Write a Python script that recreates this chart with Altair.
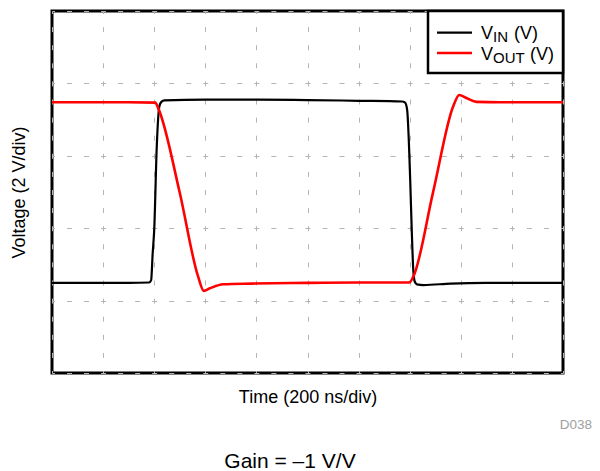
import altair as alt
import pandas as pd

# ---- data (time and voltage in divisions of the scope grid) ----
vin_t = [0, 1.5, 1.90, 1.94, 1.97, 2.00, 2.05, 2.10, 2.14, 2.20, 3.0, 4.0, 5.0, 6.0,
         6.85, 6.91, 6.95, 7.01, 7.04, 7.07, 7.10, 7.14, 7.27, 7.8, 8.5, 10]
vin_v = [2.49, 2.49, 2.50, 2.56, 3.30, 3.95, 6.25, 7.36, 7.49, 7.53, 7.55, 7.55, 7.54, 7.52,
         7.50, 7.47, 7.27, 5.33, 3.95, 2.85, 2.52, 2.45, 2.43, 2.47, 2.49, 2.49]

vout_t = [0, 1.5, 2.02, 2.08, 2.50, 2.86, 2.97, 3.09, 3.35, 3.9, 5.0, 6.0, 6.99,
          7.07, 7.46, 7.85, 7.97, 8.12, 8.31, 8.77, 10]
vout_v = [7.48, 7.48, 7.47, 7.31, 4.98, 2.66, 2.27, 2.34, 2.45, 2.47, 2.49, 2.50, 2.50,
          2.66, 5.01, 7.36, 7.68, 7.59, 7.49, 7.48, 7.48]

grid_vals = list(range(0, 11))

x_title = "Time (200 ns/div)"
y_title = "Voltage (2 V/div)"
caption = "Gain = \u20131 V/V"
fig_id = "D038"

FONT = "Liberation Sans, Arial, sans-serif"
W, H = 511, 362

vin = pd.DataFrame({"t": vin_t, "v": vin_v})
vout = pd.DataFrame({"t": vout_t, "v": vout_v})

xs = alt.Scale(domain=[0, 10], nice=False, zero=False)
ys = alt.Scale(domain=[0, 10], nice=False, zero=False)

x_axis = alt.Axis(values=grid_vals, grid=True, gridDash=[5, 13.1], gridDashOffset=2.5,
                  gridColor="#b4b4b4", gridWidth=1, labels=False, ticks=False, domain=False,
                  title=x_title, titleFont=FONT, titleFontSize=18, titleFontWeight="normal",
                  titleColor="black", titleY=29, titleBaseline="alphabetic")
y_axis = alt.Axis(values=grid_vals, grid=True, gridDash=[5, 12.03], gridDashOffset=2.5,
                  gridColor="#b4b4b4", gridWidth=1, labels=False, ticks=False, domain=False,
                  title=y_title, titleFont=FONT, titleFontSize=18, titleFontWeight="normal",
                  titleColor="black", titleX=-33, titleY=H / 2, titleAngle=270,
                  titleBaseline="middle", titleAlign="center")

vin_line = alt.Chart(vin).mark_line(color="black", strokeWidth=2.2, interpolate="monotone").encode(
    x=alt.X("t:Q", scale=xs, axis=x_axis),
    y=alt.Y("v:Q", scale=ys, axis=y_axis),
)
vout_line = alt.Chart(vout).mark_line(color="#ff0000", strokeWidth=2.6, interpolate="monotone").encode(
    x=alt.X("t:Q", scale=xs),
    y=alt.Y("v:Q", scale=ys),
)

one = pd.DataFrame({"a": [0]})
base = alt.Chart(one)

legend_box = base.mark_rect(fill="white", stroke="black", strokeWidth=2.5).encode(
    x=alt.value(376), x2=alt.value(511), y=alt.value(0), y2=alt.value(62))
leg_line1 = base.mark_rule(color="black", strokeWidth=2.2).encode(
    x=alt.value(385), x2=alt.value(420), y=alt.value(21.7))
leg_line2 = base.mark_rule(color="#ff0000", strokeWidth=2.6).encode(
    x=alt.value(385), x2=alt.value(420), y=alt.value(42))

def txt(s, x, y, size, align="left", color="black"):
    return base.mark_text(text=s, font=FONT, fontSize=size, align=align,
                          baseline="alphabetic", color=color).encode(
        x=alt.value(x), y=alt.value(y))

legend_texts = [
    txt("V", 429, 28, 18), txt("IN", 441, 30.5, 15), txt("(V)", 462, 28, 18),
    txt("V", 429, 49, 18), txt("OUT", 441, 51.5, 15), txt("(V)", 478, 49, 18),
]

id_text = txt(fig_id, 540, 418, 13.5, align="right", color="#a0a0a0")
cap_text = txt(caption, 238, 457, 21, align="center")

chart = alt.layer(vin_line, vout_line, legend_box, leg_line1, leg_line2,
                  *legend_texts, id_text, cap_text).properties(
    width=W, height=H,
    autosize=alt.AutoSizeParams(type="none"),
    padding={"left": 44, "top": 3, "right": 29, "bottom": 98},
).configure_view(stroke="black", strokeWidth=3)

chart.save("out.html", embed_options={"renderer": "svg", "actions": False})
